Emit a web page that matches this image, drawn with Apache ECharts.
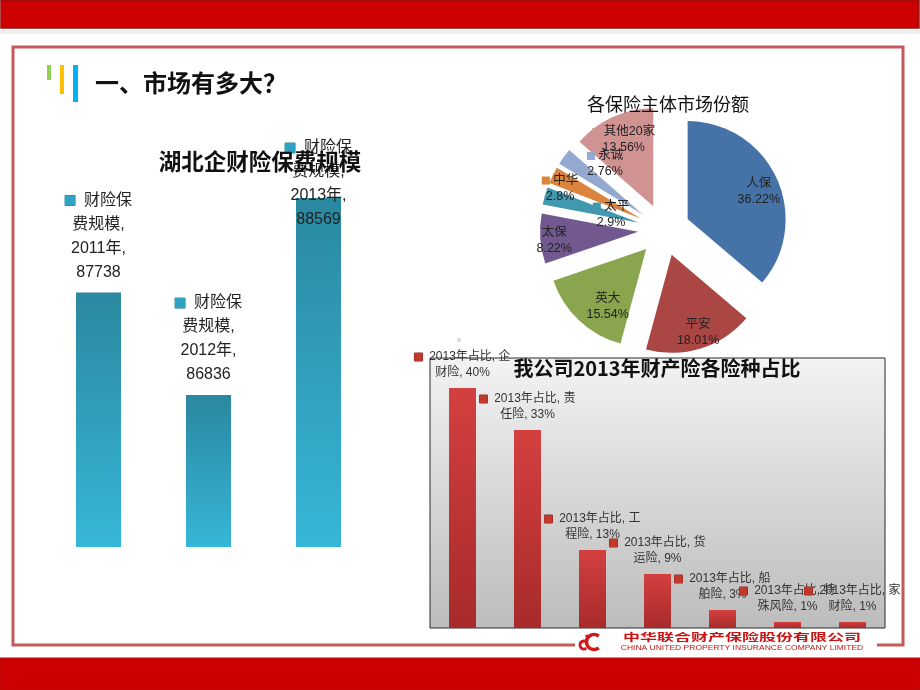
<!DOCTYPE html>
<html>
<head>
<meta charset="utf-8">
<script src="https://cdn.jsdelivr.net/npm/echarts@6/dist/echarts.min.js"></script>
<style>
  html,body{margin:0;padding:0;background:#fff;}
  #main{width:920px;height:690px;}
</style>
</head>
<body>
<div id="main"></div>
<script>
// 湖北企财险保费规模
var years = ['2011年', '2012年', '2013年'];
var premium = [87738, 86836, 88569];
var premiumName = '财险保费规模';

// 各保险主体市场份额
var shareNames = ['人保', '平安', '英大', '太保', '太平', '中华', '永诚', '其他20家'];
var shareValues = [36.22, 18.01, 15.54, 8.22, 2.9, 2.8, 2.76, 13.56];

// 我公司2013年财产险各险种占比
var lineNames = ['企财险', '责任险', '工程险', '货运险', '船舶险', '特殊风险', '家财险'];
var lineValues = [40, 33, 13, 9, 3, 1, 1];
var lineSeriesName = '2013年占比';

var FONT = '"Liberation Sans","Noto Sans CJK SC",sans-serif';
var pieColors = ['#4572a7', '#aa4643', '#89a54e', '#71588f', '#4198af', '#db843d', '#93a9cf', '#d19392'];
var pieSquare = [false, false, false, false, true, true, true, true];
// label nudges (px) so they sit like the original slide
var pieShift = [[24, -6], [11, 28], [-3, 20], [-32, 5], [22, 6], [-34, -7], [4, -20], [-8, -19]];

var chart = echarts.init(document.getElementById('main'));

var tealGrad = new echarts.graphic.LinearGradient(0, 0, 0, 1, [
  {offset: 0, color: '#2a889f'}, {offset: 1, color: '#37b6d8'}
]);
var redGrad = new echarts.graphic.LinearGradient(0, 0, 0, 1, [
  {offset: 0, color: '#d44040'}, {offset: 1, color: '#a82a2a'}
]);

var pieRich = {};
pieColors.forEach(function (c, i) {
  pieRich['s' + i] = {width: 8, height: 8, backgroundColor: c};
  });
pieRich.t = {fontSize: 12.5, color: '#222', fontFamily: FONT, lineHeight: 16};

var option = {
  animation: false,
  backgroundColor: '#fff',
  grid: [
    {left: 43.5, right: 546.5, top: 149, bottom: 143, show: false},
    {left: 430, right: 35, top: 358, bottom: 62, show: true,
      borderColor: '#2a2a2a', borderWidth: 1,
      backgroundColor: new echarts.graphic.LinearGradient(0, 0, 0, 1, [
        {offset: 0, color: '#f3f3f3'}, {offset: 1, color: '#bcbcbc'}
      ])}
  ],
  xAxis: [
    {gridIndex: 0, type: 'category', data: years, show: false},
    {gridIndex: 1, type: 'category', data: lineNames, show: false}
  ],
  yAxis: [
    {gridIndex: 0, type: 'value', min: 85500, max: 89000, show: false},
    {gridIndex: 1, type: 'value', min: 0, max: 45, show: false}
  ],
  series: [
    {
      type: 'bar', name: premiumName, xAxisIndex: 0, yAxisIndex: 0,
      data: premium, barWidth: 45,
      itemStyle: {color: tealGrad},
      label: {
        show: true, position: 'top', distance: 8,
        formatter: function (p) {
          return '{sq|}  ' + premiumName.slice(0, 3) + '\n' + premiumName.slice(3) + ',\n' + p.name + ',\n' + p.value;
        },
        fontSize: 16, lineHeight: 24, color: '#222', fontFamily: FONT,
        rich: {sq: {width: 10, height: 10, backgroundColor: '#2fa3c2', borderColor: '#2a7f94', borderWidth: 0.5}}
      },
      // keep labels inside the slide area, like the original does for 2013
      labelLayout: function (p) {
        var top = p.labelRect.y;
        if (top < 136) return {dy: 136 - top};
        return {};
      }
    },
    {
      type: 'bar', name: lineSeriesName, xAxisIndex: 1, yAxisIndex: 1,
      data: lineValues, barWidth: 27,
      itemStyle: {color: redGrad},
      label: {
        show: true, position: 'top', distance: 7,
        formatter: function (p) {
          return '{sq|}  ' + lineSeriesName + ', ' + p.name.slice(0, 1) + '\n' + p.name.slice(1) + ', ' + p.value + '%';
        },
        fontSize: 12, lineHeight: 16, color: '#333', fontFamily: FONT,
        rich: {sq: {width: 8, height: 8, backgroundColor: '#c0392b', borderColor: '#8e2020', borderWidth: 0.5}}
      }
    },
    {
      type: 'pie', name: '各保险主体市场份额',
      center: [664, 230], radius: 98,
      selectedMode: 'multiple', selectedOffset: 26,
      data: shareNames.map(function (n, i) {
        return {name: n, value: shareValues[i], selected: true, itemStyle: {color: pieColors[i]}};
      }),
      label: {
        show: true, position: 'inside',
        formatter: function (p) {
          var sq = pieSquare[p.dataIndex] ? '{s' + p.dataIndex + '|} ' : '';
          return sq + '{t|' + p.name + '}\n{t|' + p.value + '%}';
        },
        rich: pieRich
      },
      labelLayout: function (p) {
        var s = pieShift[p.dataIndex];
        return {dx: s[0], dy: s[1]};
      },
      labelLine: {show: false},
      emphasis: {disabled: true},
      select: {itemStyle: {borderWidth: 0}}
    }
  ],
  graphic: [
    // top band
    {type: 'rect', shape: {x: 0, y: 30, width: 920, height: 4}, style: {fill: '#f0f0f0'}},
    {type: 'rect', shape: {x: 1, y: 0, width: 918, height: 28}, style: {fill: '#cc0000', stroke: '#9a1010', lineWidth: 1.5}},
    // bottom band
    {type: 'rect', shape: {x: 0, y: 658, width: 920, height: 32}, style: {fill: '#cc0000', stroke: '#b31010', lineWidth: 1}},
    // frame
    {type: 'polyline', shape: {points: [[575, 645], [13, 645], [13, 47], [903, 47], [903, 645], [877, 645]]},
      style: {stroke: '#c55a5a', lineWidth: 3, fill: null}},
    // title bars
    {type: 'rect', shape: {x: 47, y: 65, width: 4, height: 15}, style: {fill: '#92d050'}},
    {type: 'rect', shape: {x: 60, y: 65, width: 4, height: 29}, style: {fill: '#ffc000'}},
    {type: 'rect', shape: {x: 73, y: 65, width: 5, height: 37}, style: {fill: '#00b0f0'}},
    {type: 'text', x: 95, y: 83, style: {text: '一、市场有多大？', fill: '#111', font: 'bold 24px "Noto Sans CJK SC"', textVerticalAlign: 'middle'}},
    // chart titles
    {type: 'text', z: 100, x: 260, y: 161, style: {text: '湖北企财险保费规模', fill: '#111', font: 'bold 22.5px "Noto Sans CJK SC"', textAlign: 'center', textVerticalAlign: 'middle'}},
    {type: 'text', z: 100, x: 668, y: 104, style: {text: '各保险主体市场份额', fill: '#111', font: '18px "Noto Sans CJK SC"', textAlign: 'center', textVerticalAlign: 'middle'}},
    {type: 'text', z: 100, x: 657, y: 368, style: {text: '我公司2013年财产险各险种占比', fill: '#111', font: 'bold 20px "Noto Sans CJK SC"', textAlign: 'center', textVerticalAlign: 'middle'}},
    // stray marker
    {type: 'rect', shape: {x: 457, y: 338, width: 4, height: 4}, style: {fill: '#dddddd'}},
    // logo
    {type: 'arc', shape: {cx: 594, cy: 642, r: 7.5, startAngle: Math.PI * 0.28, endAngle: Math.PI * 1.72, clockwise: true},
      style: {stroke: '#d01818', lineWidth: 3.5, fill: null}},
    {type: 'arc', shape: {cx: 584, cy: 645, r: 4, startAngle: Math.PI * 0.3, endAngle: Math.PI * 1.7, clockwise: true},
      style: {stroke: '#d01818', lineWidth: 3, fill: null}},
    {type: 'circle', shape: {cx: 587, cy: 636, r: 1.6}, style: {fill: '#d01818'}},
    {type: 'text', x: 742, y: 637, scaleY: 0.6,
      style: {text: '中华联合财产保险股份有限公司', fill: '#c81414', font: 'bold 17px "Noto Sans CJK SC"', textAlign: 'center', textVerticalAlign: 'middle'}},
    {type: 'text', x: 742, y: 648, scaleY: 0.8,
      style: {text: 'CHINA UNITED PROPERTY INSURANCE COMPANY LIMITED', fill: '#c81414', font: '8.5px "Liberation Sans"', textAlign: 'center', textVerticalAlign: 'middle'}}
  ]
};

chart.setOption(option);
</script>
</body>
</html>
